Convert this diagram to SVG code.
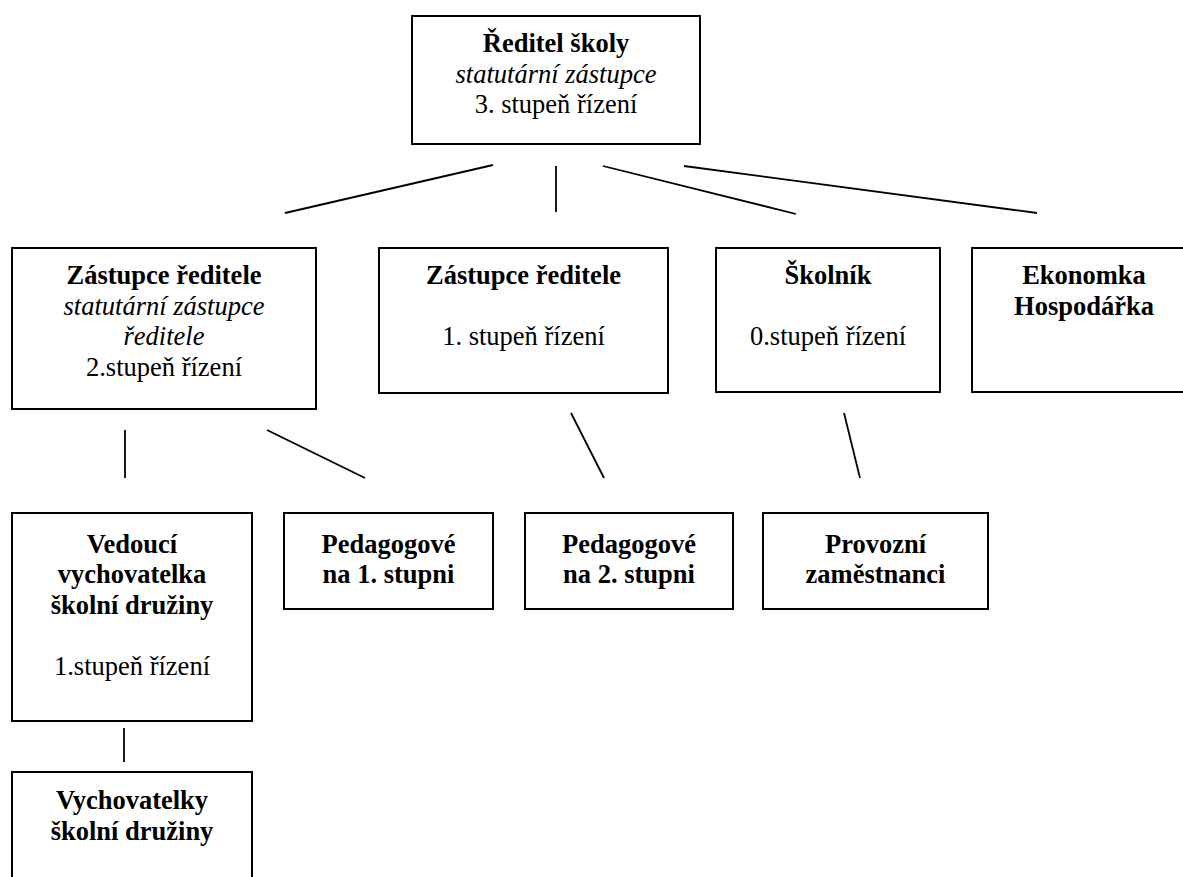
<svg xmlns="http://www.w3.org/2000/svg" width="1183" height="877" viewBox="0 0 1183 877">
<style>
.box{fill:#fff;stroke:#000;stroke-width:2}
.t{font-size:26.5px;fill:#000;text-anchor:middle}
.b{font-weight:bold}
.i{font-style:italic}
.c line{stroke:#000;stroke-width:1.8}
</style>
<rect width="1183" height="877" fill="#fff"/>
<g class="c" id="connectors">
<line x1="493" y1="165" x2="285" y2="213"/>
<line x1="556" y1="166" x2="556" y2="212"/>
<line x1="603" y1="166" x2="796" y2="214"/>
<line x1="684" y1="166" x2="1037" y2="213"/>
<line x1="125" y1="430" x2="125" y2="478"/>
<line x1="267" y1="430" x2="365" y2="478"/>
<line x1="571" y1="413" x2="604" y2="478"/>
<line x1="844" y1="413" x2="860" y2="478"/>
<line x1="124" y1="728" x2="124" y2="762"/>
</g>
<g font-family="Liberation Serif, Tinos, Times New Roman, DejaVu Serif, serif">
<g id="reditel">
<rect class="box" x="412" y="16" width="288" height="128"/>
<text class="t b" x="556" y="52">Ředitel školy</text>
<text class="t i" x="556" y="82.5">statutární zástupce</text>
<text class="t" x="556" y="113">3. stupeň řízení</text>
</g>
<g id="zastupce-statutarni">
<rect class="box" x="12" y="248" width="304" height="161"/>
<text class="t b" x="164" y="284">Zástupce ředitele</text>
<text class="t i" x="164" y="314.5">statutární zástupce</text>
<text class="t i" x="164" y="345">ředitele</text>
<text class="t" x="164" y="375.5">2.stupeň řízení</text>
</g>
<g id="zastupce">
<rect class="box" x="379" y="248" width="289" height="145"/>
<text class="t b" x="523.5" y="284">Zástupce ředitele</text>
<text class="t" x="523.5" y="345">1. stupeň řízení</text>
</g>
<g id="skolnik">
<rect class="box" x="716" y="248" width="224" height="144"/>
<text class="t b" x="828" y="284">Školník</text>
<text class="t" x="828" y="345">0.stupeň řízení</text>
</g>
<g id="ekonomka">
<rect class="box" x="972" y="248" width="224" height="144"/>
<text class="t b" x="1084" y="284">Ekonomka</text>
<text class="t b" x="1084" y="314.5">Hospodářka</text>
</g>
<g id="vedouci">
<rect class="box" x="12" y="513" width="240" height="208"/>
<text class="t b" x="132" y="552.5">Vedoucí</text>
<text class="t b" x="132" y="583">vychovatelka</text>
<text class="t b" x="132" y="613.5">školní družiny</text>
<text class="t" x="132" y="674.5">1.stupeň řízení</text>
</g>
<g id="pedagogove1">
<rect class="box" x="284" y="513" width="209" height="96"/>
<text class="t b" x="388.5" y="552.5">Pedagogové</text>
<text class="t b" x="388.5" y="583">na 1. stupni</text>
</g>
<g id="pedagogove2">
<rect class="box" x="525" y="513" width="208" height="96"/>
<text class="t b" x="629" y="552.5">Pedagogové</text>
<text class="t b" x="629" y="583">na 2. stupni</text>
</g>
<g id="provozni">
<rect class="box" x="763" y="513" width="225" height="96"/>
<text class="t b" x="875.5" y="552.5">Provozní</text>
<text class="t b" x="875.5" y="583">zaměstnanci</text>
</g>
<g id="vychovatelky">
<rect class="box" x="12" y="772" width="240" height="130"/>
<text class="t b" x="132" y="809">Vychovatelky</text>
<text class="t b" x="132" y="839.5">školní družiny</text>
</g>
</g>
</svg>
